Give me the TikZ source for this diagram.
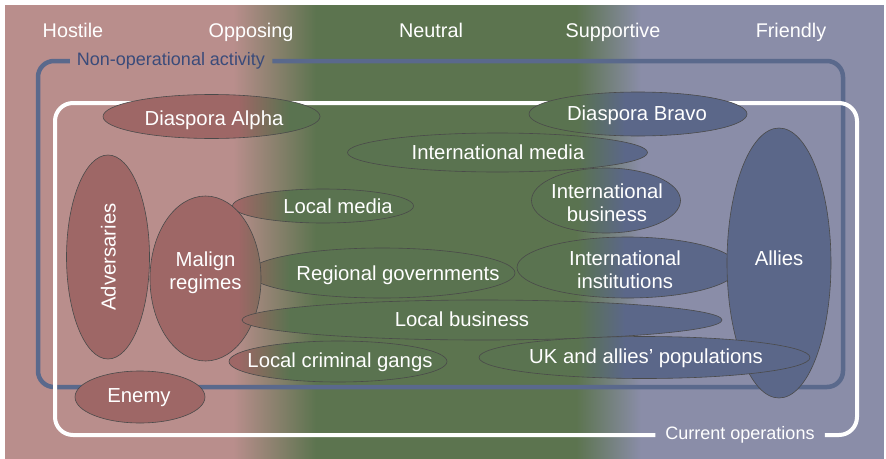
\documentclass[tikz,border=0pt]{standalone}
\usepackage{fontspec}
\setmainfont{Liberation Sans}
\definecolor{pinkbg}{HTML}{B98E8C}
\definecolor{greenbg}{HTML}{5C744F}
\definecolor{bluebg}{HTML}{8A8DA8}
\definecolor{ellred}{HTML}{9E6766}
\definecolor{ellgreen}{HTML}{5A7350}
\definecolor{ellblue}{HTML}{5B6789}
\definecolor{frameblue}{HTML}{5A698C}
\definecolor{labelblue}{HTML}{3A4B7A}
\definecolor{outl}{HTML}{4A4A4A}
\newcommand\ellfill{%
  \fill[ellred] (0,0) rectangle (241,458);
  \fill[ellgreen] (287,0) rectangle (581,458);
  \fill[ellblue] (622,0) rectangle (886,458);
  \shade[left color=ellred,right color=ellgreen] (238,0) rectangle (290,458);
  \shade[left color=ellgreen,right color=ellblue] (578,0) rectangle (625,458);}
\newcommand\ellshape[4]{%
  \begin{scope}\clip (#1,#2) ellipse [x radius=#3, y radius=#4];\ellfill\end{scope}
  \draw[outl,line width=0.6pt] (#1,#2) ellipse [x radius=#3, y radius=#4];}
\begin{document}
\begin{tikzpicture}[x=1pt,y=-1pt,
  lbl/.style={text=white,font=\fontsize{20.3}{23}\selectfont,align=center,inner sep=0pt,text height=16pt,text depth=1pt},
  lbltwo/.style={text=white,font=\fontsize{20.3}{23}\selectfont,align=center,inner sep=0pt},
  hdr/.style={text=white,font=\fontsize{19.8}{22}\selectfont,inner sep=0pt,text height=16pt,text depth=1pt},
  framelbl/.style={font=\fontsize{18}{21}\selectfont,inner ysep=0pt}]
\useasboundingbox (0,0) rectangle (886,458);
% background
\fill[pinkbg] (5,5) rectangle (236,470);
\fill[greenbg] (313,5) rectangle (579,470);
\fill[bluebg] (638,5) rectangle (884,470);
\shade[left color=pinkbg,right color=greenbg] (233,5) rectangle (316,470);
\shade[left color=greenbg,right color=bluebg] (576,5) rectangle (641,470);
% headers
\node[hdr] (hostile) at (73,30) {Hostile};
\node[hdr] (opposing) at (251,30) {Opposing};
\node[hdr] (neutral) at (431,30) {Neutral};
\node[hdr] (supportive) at (613,30) {Supportive};
\node[hdr] (friendly) at (791,30) {Friendly};
% frames
\node[framelbl,text=labelblue,inner xsep=7pt] (nonop) at (171,61) {Non-operational activity};
\draw[frameblue,line width=4.5pt,rounded corners=16pt] (nonop.west) -- (38,61) -- (38,387) -- (843,387) -- (843,61) -- (nonop.east);
\node[framelbl,text=white,inner xsep=10pt] (curops) at (740,435) {Current operations};
\draw[white,line width=4pt,rounded corners=18pt] (curops.west) -- (55,435) -- (55,103) -- (857,103) -- (857,435) -- (curops.east);
% ellipses
\ellshape{108}{257}{41.5}{102}
\node[lbl,rotate=90] (adv) at (108,257) {Adversaries};
\ellshape{323}{206}{90.5}{17}
\node[lbl] (locmedia) at (338,206) {Local media};
\ellshape{382}{273}{133}{25}
\node[lbl] (regional) at (398,273) {Regional governments};
\ellshape{205.5}{278.5}{55.5}{82.5}
\node[lbltwo] (malign) at (205.5,273) {Malign\\regimes};
\ellshape{482}{320}{240}{20}
\node[lbl] (localbus) at (462,319) {Local business};
\ellshape{338}{361.5}{109}{20.5}
\node[lbl] (gangs) at (340,360) {Local criminal gangs};
\ellshape{140}{397}{65}{26}
\node[lbl] (enemy) at (139,395) {Enemy};
\ellshape{211.5}{116.5}{108.5}{22}
\node[lbl] (diasA) at (214,118) {Diaspora Alpha};
\ellshape{497.5}{152.5}{150}{19.5}
\node[lbl] (intmedia) at (498,152) {International media};
\ellshape{638}{114}{109}{22}
\node[lbl] (diasB) at (637,113) {Diaspora Bravo};
\ellshape{606}{200.5}{74.5}{32.5}
\node[lbltwo] (intbus) at (607,202.5) {International\\business};
\ellshape{627.5}{267.5}{110.5}{30.5}
\node[lbltwo] (intinst) at (625,269.5) {International\\institutions};
\ellshape{779}{263}{52}{135}
\node[lbl] (allies) at (779,258) {Allies};
\ellshape{644.5}{357.5}{165.5}{21}
\node[lbl] (uk) at (646,356) {UK and allies’ populations};
\end{tikzpicture}
\end{document}
